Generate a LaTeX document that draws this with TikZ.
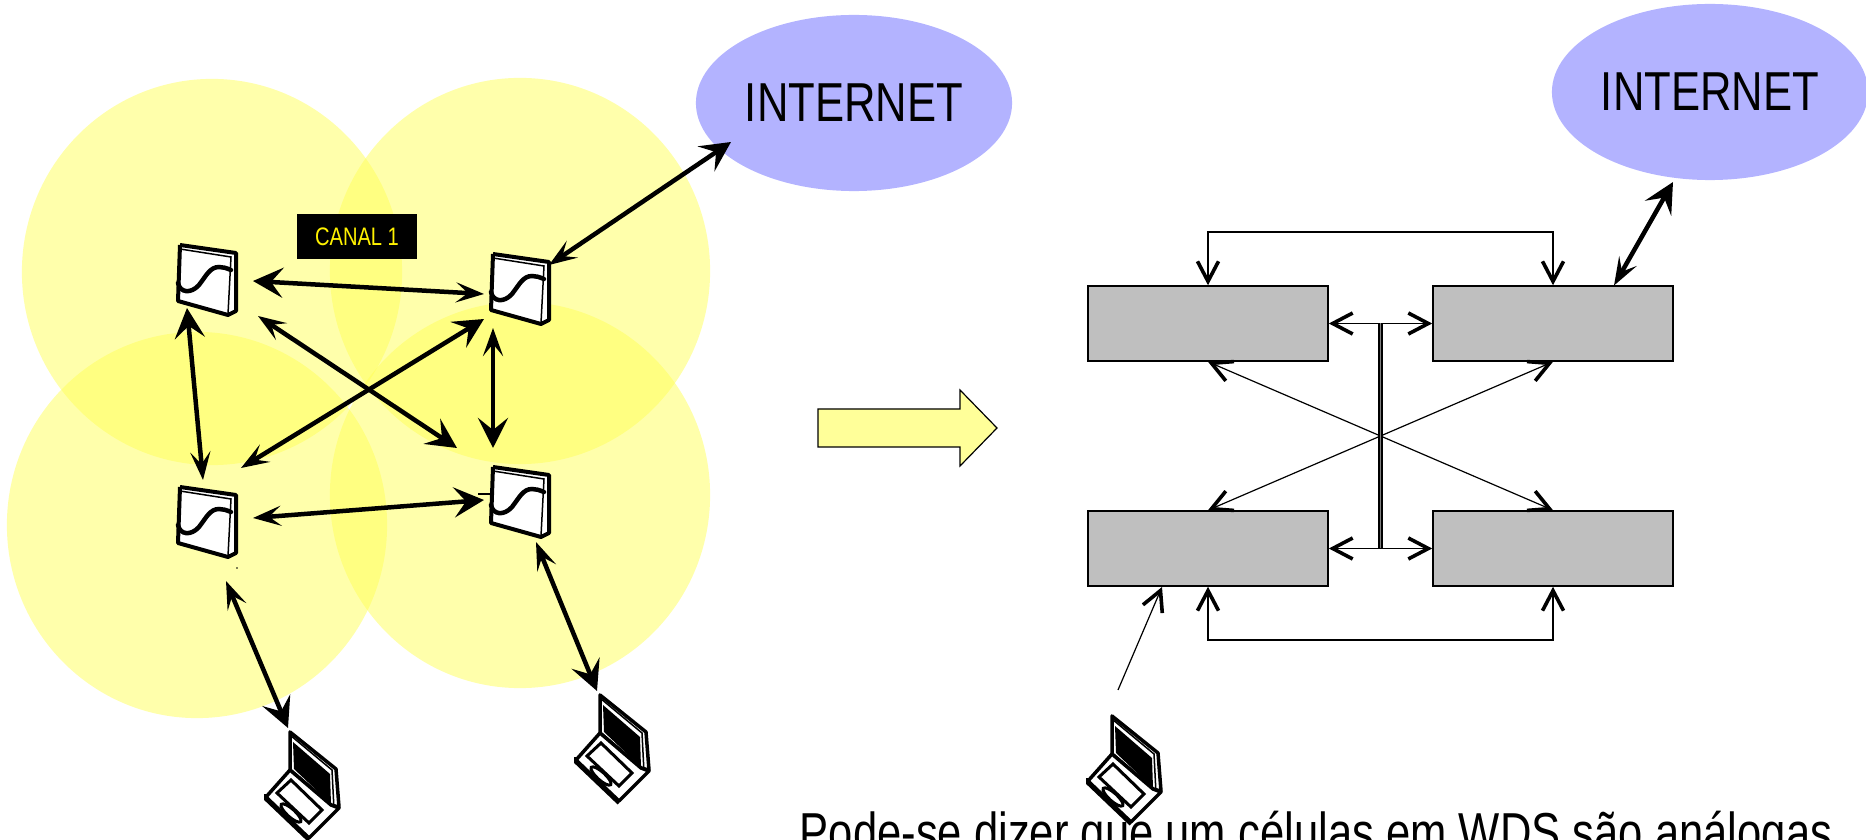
\documentclass[tikz,border=0pt]{standalone}
\usepackage{fontspec}
\usetikzlibrary{arrows.meta,calc,shapes.geometric}
\newfontfamily\slidefont{Liberation Sans}[FakeStretch=0.795]
\definecolor{cellyellow}{HTML}{FFFF57}
\definecolor{netblue}{HTML}{B3B3FF}
\definecolor{boxgray}{HTML}{BFBFBF}
\definecolor{movefill}{HTML}{FFFF99}
\tikzset{
    cell/.style={ellipse, fill=cellyellow, fill opacity=0.5, inner sep=0, minimum width=3.8cm, minimum height=3.86cm},
    inet/.style={ellipse, fill=netblue, inner sep=0, minimum width=3.16cm, minimum height=1.76cm, font=\slidefont\fontsize{15.6}{18}\selectfont},
    canal/.style={fill=black, text=yellow, inner sep=0, minimum width=1.2cm, minimum height=0.45cm, font=\slidefont\fontsize{7.2}{9}\selectfont},
    rtr/.style={inner sep=0, minimum size=0.5cm},
    lap/.style={inner sep=0, minimum size=0.5cm},
    cellbox/.style={draw, fill=boxgray, line width=0.015cm, inner sep=0, minimum width=2.4cm, minimum height=0.75cm},
    wlink/.style={line width=0.045cm, {Stealth[length=0.28cm,width=0.2cm,inset=0.12cm]}-{Stealth[length=0.3cm,width=0.3cm,inset=0.12cm]}},
    tlink/.style={line width=0.012cm, >={Straight Barb[length=0.2cm,width=0.21cm,line width=0.036cm]}},
    routerpic/.pic={
        \draw[line width=0.04cm, line join=round, fill=white] (-27,-35) -- (29,-27) -- (29,31) -- (21,35) -- (-29,21) -- (-27,-35);
        \draw[line width=0.015cm] (-27,-31) -- (24,-23) -- (21,34);
        \draw[line width=0.045cm, line cap=round] (-29,3) .. controls (-27,13) and (-16,14) .. (-8,5) .. controls (-1,-4) and (3,-13) .. (12,-13) .. controls (16,-13) and (19,-12) .. (24,-10);
    },
    laptoppic/.pic={
        %lid
        \draw[line width=0.035cm, line join=round, fill=white] (-13,-53) -- (33,-16) -- (36,22) -- (28,20) -- (-13,-15) -- cycle;
        \draw[line width=0.015cm] (-13,-50) -- (29,-15) -- (31,24);
        \fill (-10,-43) -- (27,-11) -- (28,19) -- (-9,-16) -- cycle;
        %base
        \draw[line width=0.035cm, line join=round, fill=white] (-13,-15) -- (-37,12) -- (6,53) -- (36,23) -- (28,20) -- cycle;
        \draw[line width=0.04cm] (-37,9) -- (-37,14) -- (6,55);
        \draw[line width=0.03cm, fill=white] (-26,8) -- (-12,-5) -- (19,25) -- (6,38) -- cycle;
        \draw[line width=0.03cm, rotate around={-42:(-12,28)}] (-12,28) ellipse (13 and 4);
    },
}

\begin{document}
\begin{tikzpicture}[x=0.01cm, y=-0.01cm]
        \useasboundingbox (0,0) rectangle (1866,840);
        \clip (0,0) rectangle (1866,840);

        %cells
        \node[cell] (cella) at (212,272) {};
        \node[cell] (cellb) at (520,271) {};
        \node[cell] (cellc) at (197,525) {};
        \node[cell] (celld) at (520,495) {};

        %internet
        \node[inet] (neta) at (854,103) {INTERNET};
        \node[inet] (netb) at (1710,92) {INTERNET};
        \node[canal] (chan) at (357,236.5) {CANAL 1};

        %routers
        \node[rtr] (rta) at (207,280) {};
        \node[rtr] (rtb) at (520,289) {};
        \node[rtr] (rtc) at (207,522) {};
        \node[rtr] (rtd) at (520,502) {};
        \pic at (rta) {routerpic};
        \pic at (rtb) {routerpic};
        \pic at (rtc) {routerpic};
        \pic at (rtd) {routerpic};
        \draw[line width=0.012cm] ($(rtd)+(-42,-8)$) -- ($(rtd)+(-29,-8)$);
        \fill ($(rtc)+(30,46)$) circle (0.8);

        %laptops
        \node[lap] (lapa) at (303,785) {};
        \node[lap] (lapb) at (613,748) {};
        \node[lap] (lapc) at (1125,769) {};
        \pic at (lapa) {laptoppic};
        \pic at (lapb) {laptoppic};
        \pic at (lapc) {laptoppic};

        %wireless links
        \draw[wlink] ($(rtb)+(-36,5)$) -- ($(rta)+(46,1)$);
        \draw[wlink] ($(rtc)+(-4,-42)$) -- ($(rta)+(-20,28)$);
        \draw[wlink] ($(rtc)+(34,-54)$) -- ($(rtb)+(-36,30)$);
        \draw[wlink] ($(rta)+(51,36)$) -- ($(rtd)+(-63,-54)$);
        \draw[wlink] ($(rtb)+(-27,39)$) -- ($(rtd)+(-27,-54)$);
        \draw[wlink] ($(rtc)+(46,-4)$) -- ($(rtd)+(-36,-2)$);
        \draw[wlink] ($(rtb)+(29,-24)$) -- ($(neta)+(-123,39)$);
        \draw[wlink] ($(rtc)+(19,59)$) -- ($(lapa)+(-15,-57)$);
        \draw[wlink] ($(rtd)+(16,40)$) -- ($(lapb)+(-16,-57)$);

        %move arrow
        \draw[fill=movefill, line width=0.012cm] (818,409) -- (960,409) -- (960,390) -- (997,428) -- (960,466) -- (960,447) -- (818,447) -- cycle;

        %wds boxes
        \node[cellbox] (boxa) at (1208,323.5) {};
        \node[cellbox] (boxb) at (1553,323.5) {};
        \node[cellbox] (boxc) at (1208,548.5) {};
        \node[cellbox] (boxd) at (1553,548.5) {};
        \coordinate (topbar) at (1380,232);
        \coordinate (botbar) at (1380,640);
        \coordinate (midtop) at ($(boxa.east)!0.5!(boxb.west)$);
        \coordinate (midbot) at ($(boxc.east)!0.5!(boxd.west)$);

        %wds links
        \draw[tlink, <->] (boxa.north) |- (topbar) -| (boxb.north);
        \draw[tlink, <->] (boxc.south) |- (botbar) -| (boxd.south);
        \draw[tlink, <->] (boxa.east) -- (boxb.west);
        \draw[tlink, <->] (boxc.east) -- (boxd.west);
        \draw[tlink, <->] (boxa.south) -- (boxd.north);
        \draw[tlink, <->] (boxc.north) -- (boxb.south);
        \draw[line width=0.015cm, double=gray, double distance=0.015cm] (midtop) -- (midbot);
        \draw[tlink, ->] ($(lapc)+(-7,-79)$) -- ($(boxc)+(-46,38.5)$);
        \draw[wlink] ($(boxb)+(61,-38)$) -- ($(netb)+(-37,90)$);

        %note
        \node[anchor=base west, inner sep=0, font=\slidefont\fontsize{15.6}{18}\selectfont] (note) at (799,851) {Pode-se dizer que um células em WDS são análogas};
\end{tikzpicture}
\end{document}
